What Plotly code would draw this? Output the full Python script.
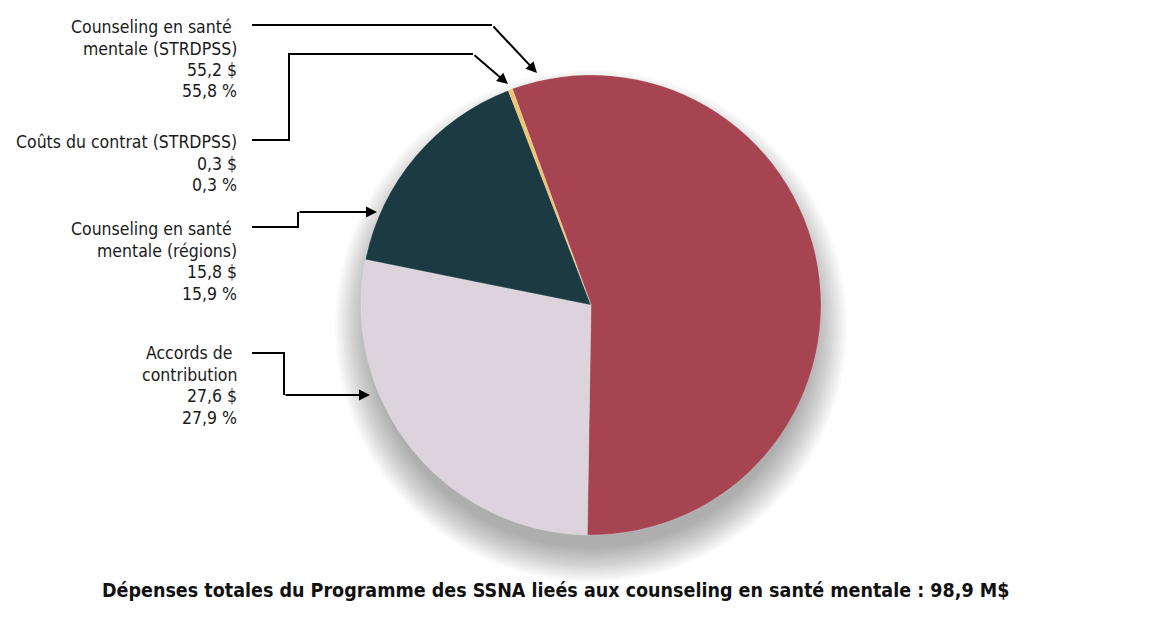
import plotly.graph_objects as go

# Données (M$)
categories = [
    "Counseling en santé mentale (STRDPSS)",
    "Accords de contribution",
    "Counseling en santé mentale (régions)",
    "Coûts du contrat (STRDPSS)",
]
montants = [55.2, 27.6, 15.8, 0.3]
pourcentages = [55.8, 27.9, 15.9, 0.3]
couleurs = ["#A64452", "#DCD3DC", "#1C3A42", "#F2C46E"]
titre = "Dépenses totales du Programme des SSNA lieés aux counseling en santé mentale : 98,9 M$"

W, H = 1170, 625
POLICE = "Liberation Sans Narrow, DejaVu Sans Condensed, Arial Narrow, sans-serif"


def px(x):
    return x / W


def py(y):
    return 1 - y / H


def fmt(v):
    return f"{v:.1f}".replace(".", ",")


fig = go.Figure(
    go.Pie(
        labels=categories,
        values=montants,
        sort=False,
        direction="clockwise",
        rotation=-20,
        marker=dict(colors=couleurs, line=dict(color="rgba(255,255,255,0.4)", width=0.5)),
        textinfo="none",
        hoverinfo="label+value",
        showlegend=False,
        domain=dict(x=[px(361), px(821)], y=[py(535), py(75)]),
    )
)

# ombre portée floue sous le disque (surtout vers le bas)
shapes = []
for k in range(18):
    r = 222 + k * 2
    cx, cy = 591, 326
    shapes.append(dict(
        type="circle", xref="paper", yref="paper", layer="below",
        x0=px(cx - r), x1=px(cx + r), y0=py(cy + r), y1=py(cy - r),
        fillcolor="rgba(60,60,60,0.022)", line=dict(width=0),
    ))


def chemin(points):
    d = "M " + " L ".join(f"{px(x)},{py(y)}" for x, y in points)
    return dict(type="path", xref="paper", yref="paper", path=d,
                line=dict(color="black", width=2))


# lignes de rappel (segments coudés) + flèches finales
rappels = [
    ([(252, 25), (492, 25)], (537, 73)),
    ([(252, 140), (289, 140), (289, 54), (473, 54)], (508, 84)),
    ([(252, 227), (298, 227), (298, 212)], (377, 212)),
    ([(252, 353), (284, 353), (284, 395)], (370, 395)),
]

annotations = []
for pts, pointe in rappels:
    shapes.append(chemin(pts))
    x0, y0 = pts[-1]
    annotations.append(dict(
        x=px(pointe[0]), y=py(pointe[1]), xref="paper", yref="paper",
        ax=x0 - pointe[0], ay=y0 - pointe[1], text="", showarrow=True,
        arrowhead=2, arrowsize=1.1, arrowwidth=2, arrowcolor="black",
    ))

# étiquettes : une annotation par ligne pour garder l'interligne serré
etiquettes = [
    (["Counseling en santé\u00a0", "mentale (STRDPSS)"], 0, 27),
    (["Coûts du contrat (STRDPSS)"], 3, 142),
    (["Counseling en santé\u00a0", "mentale (régions)"], 2, 229),
    (["Accords de\u00a0", "contribution"], 1, 353),
]
for lignes, i, y0 in etiquettes:
    lignes = lignes + [f"{fmt(montants[i])} $", f"{fmt(pourcentages[i])} %"]
    for j, ligne in enumerate(lignes):
        annotations.append(dict(
            x=px(239), y=py(y0 + j * 21.5), xref="paper", yref="paper",
            xanchor="right", yanchor="middle", align="right", showarrow=False,
            text=ligne,
            font=dict(family=POLICE, size=17.5, color="#1a1a1a"),
        ))

annotations.append(dict(
    x=px(555), y=py(590), xref="paper", yref="paper", showarrow=False,
    xanchor="center", yanchor="middle",
    text=f"<b>{titre}</b>",
    font=dict(family=POLICE, size=19.5, color="#111111"),
))

fig.update_layout(
    width=W, height=H,
    margin=dict(l=0, r=0, t=0, b=0),
    paper_bgcolor="white", plot_bgcolor="white",
    shapes=shapes, annotations=annotations,
    font=dict(family=POLICE),
)

fig.write_html(
    "out.html",
    config={"displayModeBar": False},
    post_script="document.body.style.margin='0px';",
)
